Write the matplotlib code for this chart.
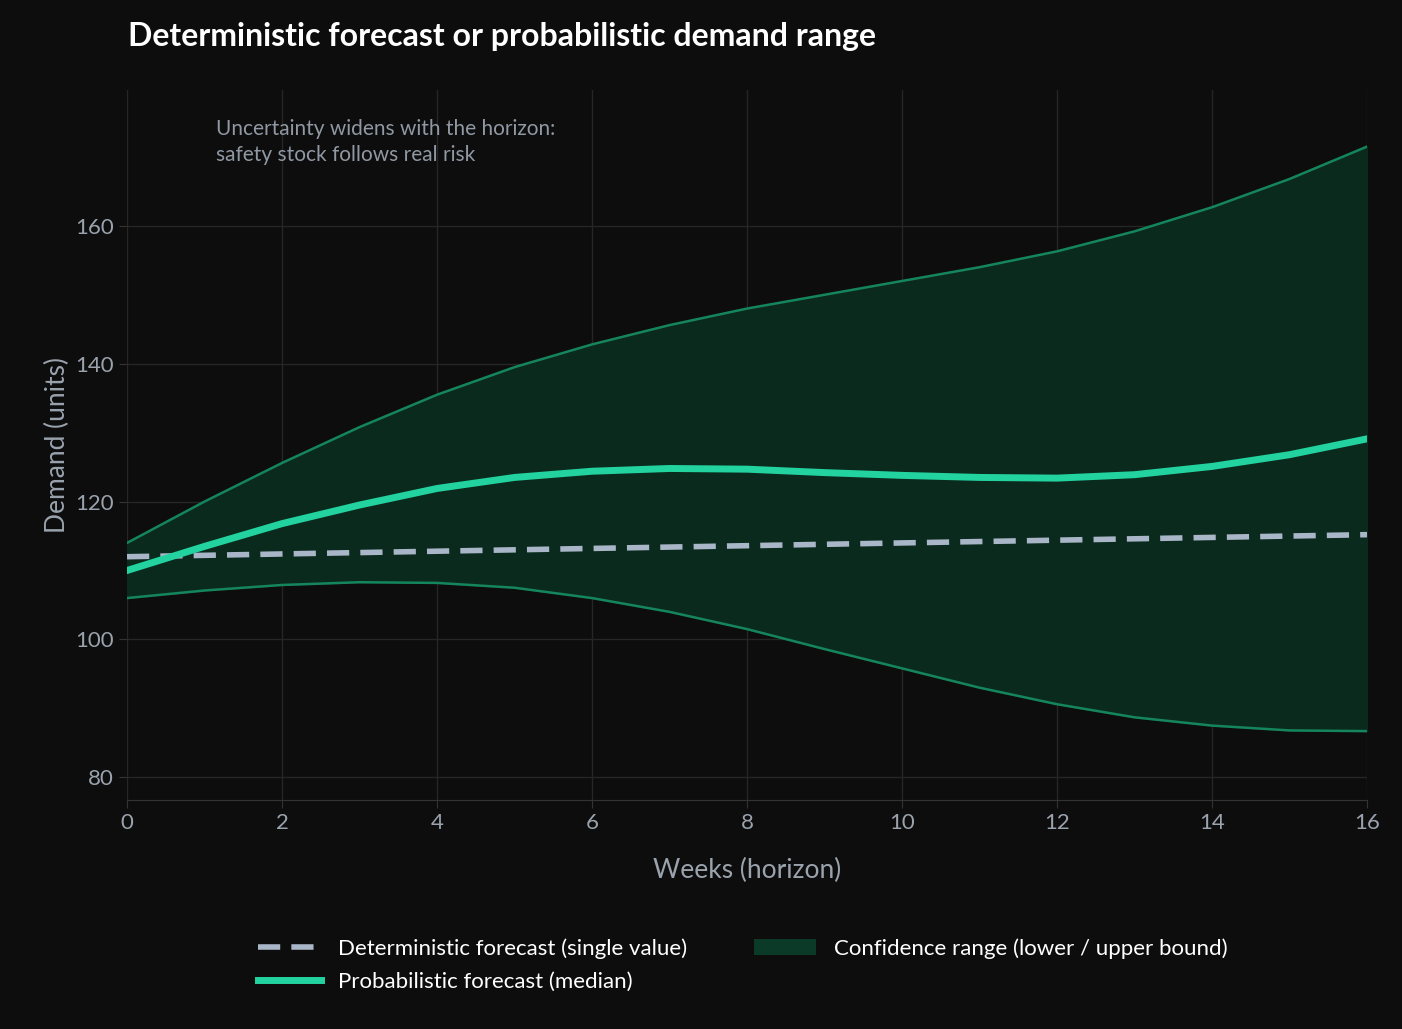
import numpy as np
import matplotlib
matplotlib.use("Agg")
import matplotlib.pyplot as plt
from matplotlib.patches import Patch
from matplotlib.lines import Line2D

# values
weeks = list(range(17))
upper = [114, 120, 125.6, 130.8, 135.5, 139.5, 142.8, 145.6, 148, 150, 152,
         154, 156.3, 159.2, 162.7, 166.8, 171.5]
lower = [106, 107.1, 107.9, 108.3, 108.2, 107.5, 106, 104, 101.5, 98.6, 95.8,
         93, 90.6, 88.7, 87.5, 86.8, 86.7]
median = [110, 113.5, 116.8, 119.5, 121.9, 123.5, 124.4, 124.8, 124.7, 124.2,
          123.8, 123.5, 123.4, 123.9, 125.1, 126.8, 129.1]
deterministic = [112, 112.2, 112.4, 112.6, 112.8, 113, 113.2, 113.4, 113.6,
                 113.8, 114, 114.2, 114.4, 114.6, 114.8, 115, 115.2]

bg = "#0d0d0d"
plt.rcParams['font.family'] = ['Lato', 'DejaVu Sans']

fig = plt.figure(figsize=(14.02, 10.29), dpi=100, facecolor=bg)
ax = fig.add_axes([0.0906, 0.2225, 0.8845, 0.6900])
ax.set_facecolor(bg)

ax.fill_between(weeks, lower, upper, color="#0b2a1e", zorder=1)
ax.plot(weeks, upper, color="#14855c", lw=1.8, zorder=2)
ax.plot(weeks, lower, color="#14855c", lw=1.8, zorder=2)
ax.plot(weeks, deterministic, color="#a9b6c8", lw=4, ls=(0, (4, 2)), zorder=3)
ax.plot(weeks, median, color="#22d3a0", lw=5, zorder=4)

ax.set_xlim(0, 16)
ax.set_ylim(76.7, 179.7)
ax.set_xticks(range(0, 17, 2))
ax.set_yticks(range(80, 161, 20))
ax.grid(True, color="#262626", lw=1)
ax.set_axisbelow(True)
for s in ["top", "right", "left"]:
    ax.spines[s].set_visible(False)
ax.spines["bottom"].set_color("#333333")
ax.tick_params(colors="#333333", labelcolor="#9aa3ad", labelsize=16, length=6)

ax.set_xlabel("Weeks (horizon)", color="#9aa3ad", fontsize=19, labelpad=18)
ax.set_ylabel("Demand (units)", color="#9aa3ad", fontsize=19, labelpad=4)
ax.text(1.15, 175.5, "Uncertainty widens with the horizon:\nsafety stock follows real risk",
        color="#8f98a3", fontsize=15, va="top", linespacing=1.35)

fig.text(0.091, 0.965, "Deterministic forecast or probabilistic demand range",
         color="white", fontsize=23, fontweight="bold", va="center")

handles = [Line2D([], [], color="#a9b6c8", lw=4, ls=(0, (4, 2))),
           Line2D([], [], color="#22d3a0", lw=5),
           Patch(facecolor="#0b3a28", edgecolor="none")]
labels = ["Deterministic forecast (single value)", "Probabilistic forecast (median)",
          "Confidence range (lower / upper bound)"]
fig.legend(handles, labels, loc="center", bbox_to_anchor=(0.53, 0.062), ncol=2,
           frameon=False, fontsize=16, labelcolor="white", handlelength=2.8,
           columnspacing=3, labelspacing=0.6)

fig.savefig("out.png", dpi=100, facecolor=bg)
